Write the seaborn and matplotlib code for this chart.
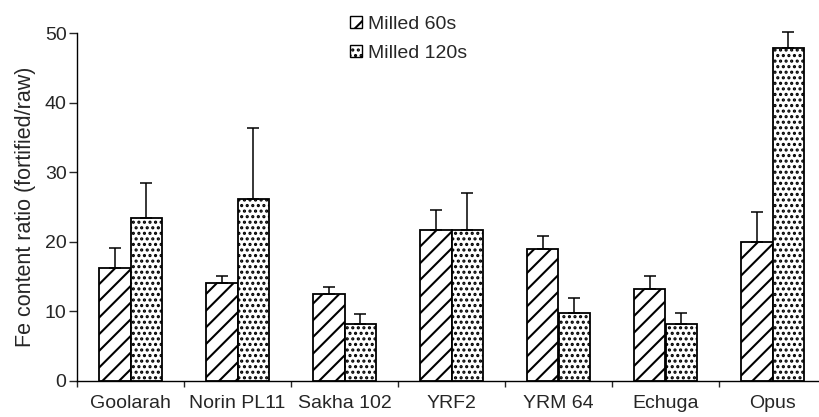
import numpy as np
import pandas as pd
import matplotlib
matplotlib.use('Agg')
import matplotlib.pyplot as plt
import matplotlib.patches as mpatches
import seaborn as sns

varieties = ['Goolarah', 'Norin PL11', 'Sakha 102', 'YRF2', 'YRM 64', 'Echuga', 'Opus']
milled_60 = [16.2, 14.0, 12.4, 21.7, 18.9, 13.15, 19.95]
err_60 = [2.85, 1.1, 1.1, 2.8, 1.9, 1.95, 4.35]
milled_120 = [23.4, 26.2, 8.1, 21.7, 9.7, 8.1, 47.9]
err_120 = [5.1, 10.1, 1.45, 5.3, 2.15, 1.6, 2.3]
series = ['Milled 60s', 'Milled 120s']

df = pd.DataFrame({
    'variety': varieties * 2,
    'ratio': milled_60 + milled_120,
    'err': err_60 + err_120,
    'series': [series[0]] * len(varieties) + [series[1]] * len(varieties),
})

sns.set_style('white')
plt.rcParams['font.family'] = ['Liberation Sans', 'DejaVu Sans']
plt.rcParams['hatch.linewidth'] = 1.5
plt.rcParams['hatch.color'] = 'black'

fig = plt.figure(figsize=(8.19, 4.17), dpi=100)
ax = fig.add_axes([77 / 819, 36.3 / 417, 749 / 819, 347.7 / 417])

sns.barplot(data=df, x='variety', y='ratio', hue='series', order=varieties,
            hue_order=series, palette=['white', 'white'], edgecolor='black',
            linewidth=1.3, width=0.59, gap=0, errorbar=None, legend=False, ax=ax)

hatches = {series[0]: '//', series[1]: '...'}
for cont, name in zip(ax.containers, series):
    for bar in cont:
        bar.set_hatch(hatches[name])
        bar.set_edgecolor('black')
    # one-sided (upper) error bars
    xs = [b.get_x() + b.get_width() / 2 for b in cont]
    ys = [b.get_height() for b in cont]
    errs = df[df['series'] == name]['err'].values
    ax.errorbar(xs, ys, yerr=[np.zeros(len(errs)), errs], fmt='none',
                ecolor='black', elinewidth=1.1, capsize=4, capthick=1.1,
                zorder=3, clip_on=False)

ax.set_xlim(-0.5, 6.5)
ax.set_ylim(0, 50)
ax.set_yticks([0, 10, 20, 30, 40, 50])
ax.set_xticks(range(len(varieties)))
ax.set_xticklabels(varieties)
ax.set_xticks(np.arange(-0.5, 7, 1), minor=True)
ax.tick_params(axis='x', which='major', length=0, pad=10, labelsize=14)
ax.tick_params(axis='x', which='minor', length=4.5, width=1, direction='out', bottom=True)
ax.tick_params(axis='y', length=5.5, width=1, direction='out', left=True, labelsize=14, pad=2)
ax.set_xlabel('')
ax.set_ylabel('Fe content ratio (fortified/raw)', fontsize=15.5, labelpad=6)

for s in ['top', 'right']:
    ax.spines[s].set_visible(False)
for s in ['left', 'bottom']:
    ax.spines[s].set_color('black')
    ax.spines[s].set_linewidth(1)

handles = [mpatches.Patch(facecolor='white', edgecolor='black', hatch=hatches[n], label=n)
           for n in series]
ax.legend(handles=handles, loc='upper left', bbox_to_anchor=(350 / 819, 1 - 16 / 417),
          bbox_transform=fig.transFigure, frameon=False, fontsize=14,
          handlelength=0.6, handleheight=0.6, handletextpad=0.3,
          labelspacing=0.6, borderpad=0, borderaxespad=0)

fig.savefig('out.png', dpi=100)
